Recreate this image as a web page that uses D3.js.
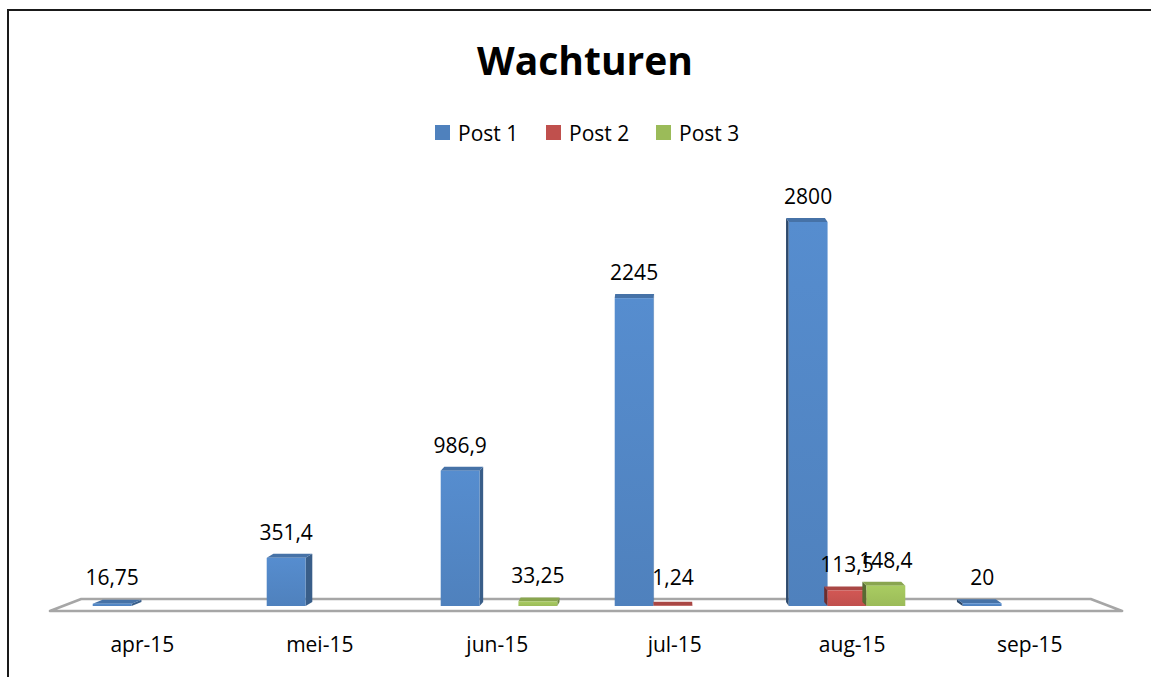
<!DOCTYPE html>
<html>
<head>
<meta charset="utf-8">
<script src="https://cdn.jsdelivr.net/npm/d3@7"></script>
<style>
  html, body { margin: 0; background: #fff; overflow: hidden; }
  svg { display: block; }
  text { font-family: "Open Sans", sans-serif; fill: #000; }
</style>
</head>
<body>
<svg id="chart" width="1151" height="677"></svg>
<script>
// chart data
var categories = ["apr-15", "mei-15", "jun-15", "jul-15", "aug-15", "sep-15"];
var seriesNames = ["Post 1", "Post 2", "Post 3"];
var post1 = [16.75, 351.4, 986.9, 2245, 2800, 20];
var post2 = [null, null, null, 1.24, 113.5, null];
var post3 = [null, null, 33.25, null, 148.4, null];
var seriesColors = ["#4f81bd", "#c0504d", "#9bbb59"];

var svg = d3.select("#chart");
var seriesValues = [post1, post2, post3];

// frame
svg.append("rect")
    .attr("x", 8).attr("y", 10)
    .attr("width", 1160).attr("height", 700)
    .attr("fill", "none")
    .attr("stroke", "#1a1a1a")
    .attr("stroke-width", 2);

// title
svg.append("text")
    .attr("x", 585).attr("y", 75)
    .attr("text-anchor", "middle")
    .style("font-size", "39px")
    .style("font-weight", "bold")
    .text("Wachturen");

// legend
var legendX = [435, 546, 656];
var legend = svg.append("g").selectAll("g")
    .data(seriesNames)
    .enter().append("g")
    .attr("transform", function(d, i) { return "translate(" + legendX[i] + ",125)"; });
legend.append("rect")
    .attr("width", 15).attr("height", 15)
    .attr("fill", function(d, i) { return seriesColors[i]; });
legend.append("text")
    .attr("x", 23).attr("y", 16)
    .style("font-size", "21px")
    .text(function(d) { return d; });

var x0 = d3.scaleBand()
    .domain(categories)
    .range([64, 1108])
    .paddingInner(0.33)
    .paddingOuter(0.165);

var x1 = d3.scaleBand()
    .domain(seriesNames)
    .range([0, x0.bandwidth()]);

var y = d3.scaleLinear()
    .domain([0, d3.max(post1)])
    .range([606, 222]);

var vp = 585; // perspective centre
var depthY = 4;

// floor
var r0 = x0.range()[0], r1 = x0.range()[1];
function persp(v, f) { return vp + (v - vp) * f; }
var floorBack = 599, floorFront = 611;
svg.append("path")
    .attr("d", "M" + persp(r0, 0.967) + "," + floorBack +
               "L" + persp(r1, 0.967) + "," + floorBack +
               "L" + persp(r1, 1.027) + "," + floorFront +
               "L" + persp(r0, 1.027) + "," + floorFront + "Z")
    .attr("fill", "#fff")
    .attr("stroke", "#a6a6a6")
    .attr("stroke-width", 2.5)
    .attr("stroke-linejoin", "round");

// gradients for front faces
var defs = svg.append("defs");
seriesColors.forEach(function(c, i) {
    var g = defs.append("linearGradient")
        .attr("id", "grad" + i)
        .attr("x1", 0).attr("y1", 0).attr("x2", 0).attr("y2", 1);
    g.append("stop").attr("offset", "0%").attr("stop-color", d3.color(c).brighter(0.25));
    g.append("stop").attr("offset", "100%").attr("stop-color", c);
});

// build bar list
var bars = [];
categories.forEach(function(cat, ci) {
    seriesNames.forEach(function(s, si) {
        var v = seriesValues[si][ci];
        if (v == null) return;
        bars.push({ cat: cat, series: s, si: si, value: v });
    });
});

var barG = svg.append("g");
bars.forEach(function(d) {
    var xa = x0(d.cat) + x1(d.series);
    var xb = xa + x1.bandwidth();
    var yt = y(d.value), yb = y(0);
    var cx = (xa + xb) / 2;
    var dx = (660 - cx) * 0.018;
    var base = d3.color(seriesColors[d.si]);
    var g = barG.append("g");

    // side face
    var sx = dx > 0 ? xb : xa;
    g.append("path")
        .attr("d", "M" + sx + "," + yt + "L" + (sx + dx) + "," + (yt - depthY) +
                   "L" + (sx + dx) + "," + (yb - depthY) + "L" + sx + "," + yb + "Z")
        .attr("fill", dx > 0 ? base.darker(0.9) : base.darker(1.6));
    // top face
    g.append("path")
        .attr("d", "M" + xa + "," + yt + "L" + xb + "," + yt +
                   "L" + (xb + dx) + "," + (yt - depthY) + "L" + (xa + dx) + "," + (yt - depthY) + "Z")
        .attr("fill", base.darker(0.35));
    // front face
    g.append("rect")
        .attr("x", xa).attr("y", yt)
        .attr("width", xb - xa).attr("height", yb - yt)
        .attr("fill", "url(#grad" + d.si + ")");

    d.cx = cx;
    d.yt = yt;
});

// data labels
svg.append("g").selectAll("text")
    .data(bars)
    .enter().append("text")
    .attr("x", function(d) { return d.cx; })
    .attr("y", function(d) { return Math.min(d.yt - 18, 585); })
    .attr("text-anchor", "middle")
    .style("font-size", "21px")
    .text(function(d) { return String(d.value).replace(".", ","); });

// category labels
svg.append("g").selectAll("text")
    .data(categories)
    .enter().append("text")
    .attr("x", function(d) { return persp(x0(d) + x0.bandwidth() / 2, 1.02); })
    .attr("y", 652)
    .attr("text-anchor", "middle")
    .style("font-size", "21px")
    .text(function(d) { return d; });
</script>
</body>
</html>
